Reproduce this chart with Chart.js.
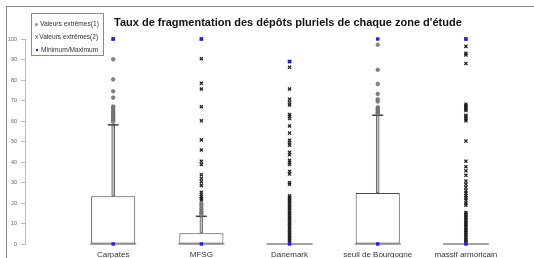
<!DOCTYPE html>
<html>
<head>
<meta charset="utf-8">
<script src="https://cdn.jsdelivr.net/npm/chart.js@4/dist/chart.umd.min.js"></script>
<style>
  html, body { margin:0; padding:0; background:#fff; overflow:hidden; width:534px; height:258px; }
  #wrap { position:absolute; left:0; top:0; width:534px; height:268px; }
  #frame { position:absolute; left:6px; top:6px; width:600px; height:300px; border-left:1px solid #8a8a8a; border-top:1px solid #8a8a8a; pointer-events:none; }
  #title { position:absolute; left:114px; top:16px; font-family:"Liberation Sans", Arial, sans-serif; font-weight:bold; font-size:11px; color:#111; white-space:nowrap; }
  #legend { position:absolute; left:31px; top:13px; width:71px; height:41px; border:1px solid #8a8a8a; background:#fff; font-family:"Liberation Sans", Arial, sans-serif; font-size:6.6px; color:#333; }
  .row { position:absolute; left:3px; white-space:nowrap; line-height:8px; }
  .mk { display:inline-block; vertical-align:middle; margin-right:2px; }
</style>
</head>
<body>
<div id="wrap"><canvas id="c" width="534" height="268"></canvas></div>
<div id="frame"></div>
<div id="title">Taux de fragmentation des dépôts pluriels de chaque zone d'étude</div>
<div id="legend">
  <div class="row" style="top:6px"><span class="mk" style="width:3px;height:3px;border-radius:50%;background:#999;"></span>Valeurs extrêmes(1)</div>
  <div class="row" style="top:19px"><span style="color:#444;margin-right:1px;">x</span>Valeurs extrêmes(2)</div>
  <div class="row" style="top:32px"><span class="mk" style="width:2px;height:2px;background:#1a1aff;margin-left:1px;margin-right:3px;"></span>Minimum/Maximum</div>
</div>
<script>
const categories = ['Carpates', 'MFSG', 'Danemark', 'seuil de Bourgogne', 'massif armoricain'];
const q1 = [0, 0, 0, 0, 0];
const median = [0, 0, 0, 0, 0];
const q3 = [23.3, 5.3, 0, 24.9, 0];
const whiskerHigh = [58.1, 13.5, 0, 62.8, 0];
const minimum = [0, 0, 0, 0, 0];
const maximum = [100, 100, 89, 100, 100];
const extremes1 = [
  [90.1, 80.3, 74.5, 71.4, 67.1, 66.2, 65.1, 64.3, 63.5, 62.8, 62.0, 61.2, 60.4, 59.6],
  [19.7, 18.5, 17.2, 16.1, 15.0, 14.1],
  [],
  [97.2, 85.0, 78.1, 73.2, 70.6, 69.5, 66.7, 65.8, 65.1, 64.3, 63.5],
  []
];
const extremes2 = [
  [100],
  [100, 90.4, 78.4, 75.6, 67.0, 60.1, 50.8, 45.9, 40.4, 38.8, 33.8, 31.9, 30.4, 28.6, 25.2, 24.1, 23.1, 22.2, 21.5],
  [89, 86.2, 75.6, 70.6, 69.0, 67.8, 63.2, 62.3, 61.2, 57.6, 54.1, 50.6, 49.4, 48.2, 44.7, 43.5, 40.8, 39.8, 38.8, 35.4, 34.1, 29.9, 29.1,
   23.5, 22.8, 22.0, 21.3, 20.5, 19.6, 18.8, 18.0, 17.2, 16.4, 15.5, 14.7, 14.0, 13.1, 12.3, 11.5, 10.6, 9.8, 9.0, 8.2, 7.3, 6.5, 5.7, 4.9, 4.1, 3.3, 2.5, 1.6, 0.8],
  [],
  [100, 96.4, 93.0, 92.2, 88.1, 68.2, 67.4, 66.7, 65.8, 65.1, 62.8, 62.0, 61.0, 60.1, 50.2, 40.4, 37.7, 35.7, 33.5, 30.7, 29.1, 27.6, 26.0, 24.7, 23.6, 22.5, 21.3, 20.0, 18.9,
   15.4, 14.6, 13.8, 13.0, 12.2, 11.4, 10.5, 9.7, 8.9, 8.1, 7.2, 6.4, 5.6, 4.8, 4.0, 3.1, 2.3, 1.5, 0.7]
];
const yTickStep = 10;

const pos = (i) => i + 1;
const flat = (lists) => lists.flatMap((vals, i) => vals.map(v => ({x: pos(i), y: v})));

const boxData = categories.map((c, i) => ({x: pos(i), y: [q1[i], q3[i]]})).filter(d => d.y[1] > d.y[0]);
const whiskerData = categories.map((c, i) => ({x: pos(i), y: [q3[i], whiskerHigh[i]]})).filter(d => d.y[1] > d.y[0]);
const capData = categories.map((c, i) => ({x: pos(i), y: whiskerHigh[i]})).filter((d, i) => whiskerHigh[i] > q3[i]);
const medianData = categories.map((c, i) => ({x: pos(i), y: median[i]}));
const minMaxData = categories.flatMap((c, i) => [{x: pos(i), y: minimum[i]}, {x: pos(i), y: maximum[i]}]);

new Chart(document.getElementById('c'), {
  type: 'scatter',
  data: {
    datasets: [
      { type: 'bar', data: whiskerData, grouped: false, backgroundColor: '#c0c0c0', borderColor: '#666', borderWidth: 1, borderSkipped: false,
        barThickness: 3, maxBarThickness: 3, clip: false, order: 5 },
      { type: 'bar', data: boxData, grouped: false, backgroundColor: '#ffffff', borderColor: '#4a4a4a', borderWidth: 1, borderSkipped: false,
        categoryPercentage: 1, barPercentage: 0.5, maxBarThickness: 46, clip: false, order: 4 },
      { type: 'scatter', data: medianData, pointStyle: 'line', pointRadius: 23, borderColor: '#4a4a4a', borderWidth: 1, clip: false, order: 3 },
      { type: 'scatter', data: capData, pointStyle: 'line', pointRadius: 5.5, borderColor: '#404040', borderWidth: 1.5, clip: false, order: 3 },
      { type: 'scatter', data: flat(extremes1), pointStyle: 'circle', pointRadius: 1.8, backgroundColor: '#888', borderColor: '#555', borderWidth: 0.6, clip: false, order: 2 },
      { type: 'scatter', data: flat(extremes2), pointStyle: 'crossRot', pointRadius: 2.2, borderColor: '#222', borderWidth: 1.3, clip: false, order: 2 },
      { type: 'scatter', data: minMaxData, pointStyle: 'rect', pointRadius: 2.4, backgroundColor: '#1a1aff', borderColor: '#1a1aff', borderWidth: 0, clip: false, order: 1 }
    ]
  },
  options: {
    responsive: false,
    animation: false,
    events: [],
    layout: { padding: { top: 39, right: 8.5, left: 0, bottom: 0 } },
    plugins: { legend: { display: false }, tooltip: { enabled: false }, title: { display: false } },
    scales: {
      x: {
        type: 'linear', min: 0, max: 5.5, offset: false,
        grid: { display: false, drawTicks: false },
        border: { display: false },
        afterFit: (s) => { s.height = 16; },
        ticks: {
          stepSize: 1, includeBounds: false, autoSkip: false, maxRotation: 0, padding: 6,
          font: { family: 'Liberation Sans', size: 8 }, color: '#333',
          callback: (v) => (Number.isInteger(v) && v >= 1 && v <= categories.length) ? categories[v - 1] : ''
        }
      },
      y: {
        type: 'linear', min: 0, max: 100,
        grid: { drawOnChartArea: false, color: '#bbb', tickLength: 4 },
        border: { color: '#bbb' },
        afterFit: (s) => { s.width = 25; },
        ticks: { stepSize: yTickStep, padding: 4, font: { family: 'Liberation Sans', size: 5.5 }, color: '#666' }
      }
    }
  }
});
</script>
</body>
</html>
